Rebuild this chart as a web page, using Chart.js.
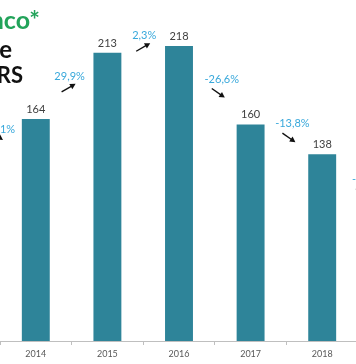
<!DOCTYPE html>
<html>
<head>
<meta charset="utf-8">
<script src="https://cdn.jsdelivr.net/npm/chart.js@4"></script>
<style>
  html, body { margin: 0; padding: 0; background: #fff; overflow: hidden; }
  #wrap { position: relative; width: 358px; height: 364px; }
  canvas { position: absolute; left: 0; top: 0; }
  .t { position: absolute; font-family: Lato, sans-serif; font-weight: bold; text-align: right; white-space: nowrap; width: 300px; }
</style>
</head>
<body>
<div id="wrap">
  <canvas id="c" width="358" height="364"></canvas>
  <div class="t" style="left:-260px; top:1px; font-size:25px; color:#22a35a; line-height:36px;">nco*</div>
  <div class="t" style="left:-288px; top:31px; font-size:24px; color:#111; line-height:36px;">e</div>
  <div class="t" style="left:-277px; top:57px; font-size:22px; color:#111; line-height:36px;">RS</div>
</div>
<script>
const categories = ['2014', '2015', '2016', '2017', '2018'];
const values = [164, 213, 218, 160, 138];
// year-over-year change labels, first one relative to 2013, last one to 2019
const changes = ['-8,1%', '29,9%', '2,3%', '-26,6%', '-13,8%', '-3,6%'];

const labelPlugin = {
  id: 'labels',
  afterDatasetsDraw(chart) {
    const ctx = chart.ctx;
    const xs = chart.scales.x, ys = chart.scales.y;
    const meta = chart.getDatasetMeta(0);
    ctx.save();
    ctx.font = '11px Lato, sans-serif';
    ctx.fillStyle = '#404040';
    ctx.textAlign = 'center';
    ctx.textBaseline = 'alphabetic';
    meta.data.forEach((bar, i) => {
      ctx.fillText(String(values[i]), bar.x, bar.y - 6);
    });
    const step = xs.getPixelForValue(1) - xs.getPixelForValue(0);
    const x0 = xs.getPixelForValue(0);
    const levels = [153.7, 193, 223, 191, 158, 117];
    const dx = [1, -2, 1, 7, 6, 8];
    changes.forEach((txt, b) => {
      const cx = x0 + (b - 0.5) * step + dx[b];
      const by = ys.getPixelForValue(levels[b]);
      ctx.font = '11px Lato, sans-serif';
      ctx.fillStyle = '#38a8db';
      ctx.textAlign = 'center';
      ctx.fillText(txt, cx, by);
      const neg = txt.startsWith('-');
      let sx, sy, ex, ey;
      if (b === 0) { sx = cx - 10; sy = by - 1; ex = cx + 2; ey = by + 7; }
      else if (neg) { sx = cx - 10; sy = by + 6; ex = cx + 3; ey = by + 15; }
      else { sx = cx - 8; sy = by + 12; ex = cx + 6; ey = by + 4; }
      const ang = Math.atan2(ey - sy, ex - sx);
      ctx.strokeStyle = '#111';
      ctx.fillStyle = '#111';
      ctx.lineWidth = 1.4;
      ctx.beginPath();
      ctx.moveTo(sx, sy);
      ctx.lineTo(ex - 3 * Math.cos(ang), ey - 3 * Math.sin(ang));
      ctx.stroke();
      ctx.beginPath();
      ctx.moveTo(ex, ey);
      ctx.lineTo(ex - 5.5 * Math.cos(ang) + 3 * Math.sin(ang), ey - 5.5 * Math.sin(ang) - 3 * Math.cos(ang));
      ctx.lineTo(ex - 5.5 * Math.cos(ang) - 3 * Math.sin(ang), ey - 5.5 * Math.sin(ang) + 3 * Math.cos(ang));
      ctx.closePath();
      ctx.fill();
    });
    ctx.restore();
  }
};

new Chart(document.getElementById('c'), {
  type: 'bar',
  data: {
    labels: categories,
    datasets: [{
      data: values,
      backgroundColor: '#2e8499',
      borderWidth: 0,
      barPercentage: 0.39,
      categoryPercentage: 1.0
    }]
  },
  options: {
    responsive: false,
    devicePixelRatio: 1,
    animation: false,
    layout: { padding: 0 },
    plugins: { legend: { display: false }, tooltip: { enabled: false } },
    scales: {
      y: { display: false, min: 0, max: 252 },
      x: {
        grid: { display: true, drawOnChartArea: false, drawTicks: true, tickLength: 4, color: '#bfbfbf', offset: true },
        border: { display: true, color: '#bfbfbf', width: 1 },
        ticks: { font: { family: 'Lato, sans-serif', size: 9 }, color: '#595959', padding: 4, maxRotation: 0 },
        afterFit(s) { s.height = 23; }
      }
    }
  },
  plugins: [labelPlugin]
});
</script>
</body>
</html>
